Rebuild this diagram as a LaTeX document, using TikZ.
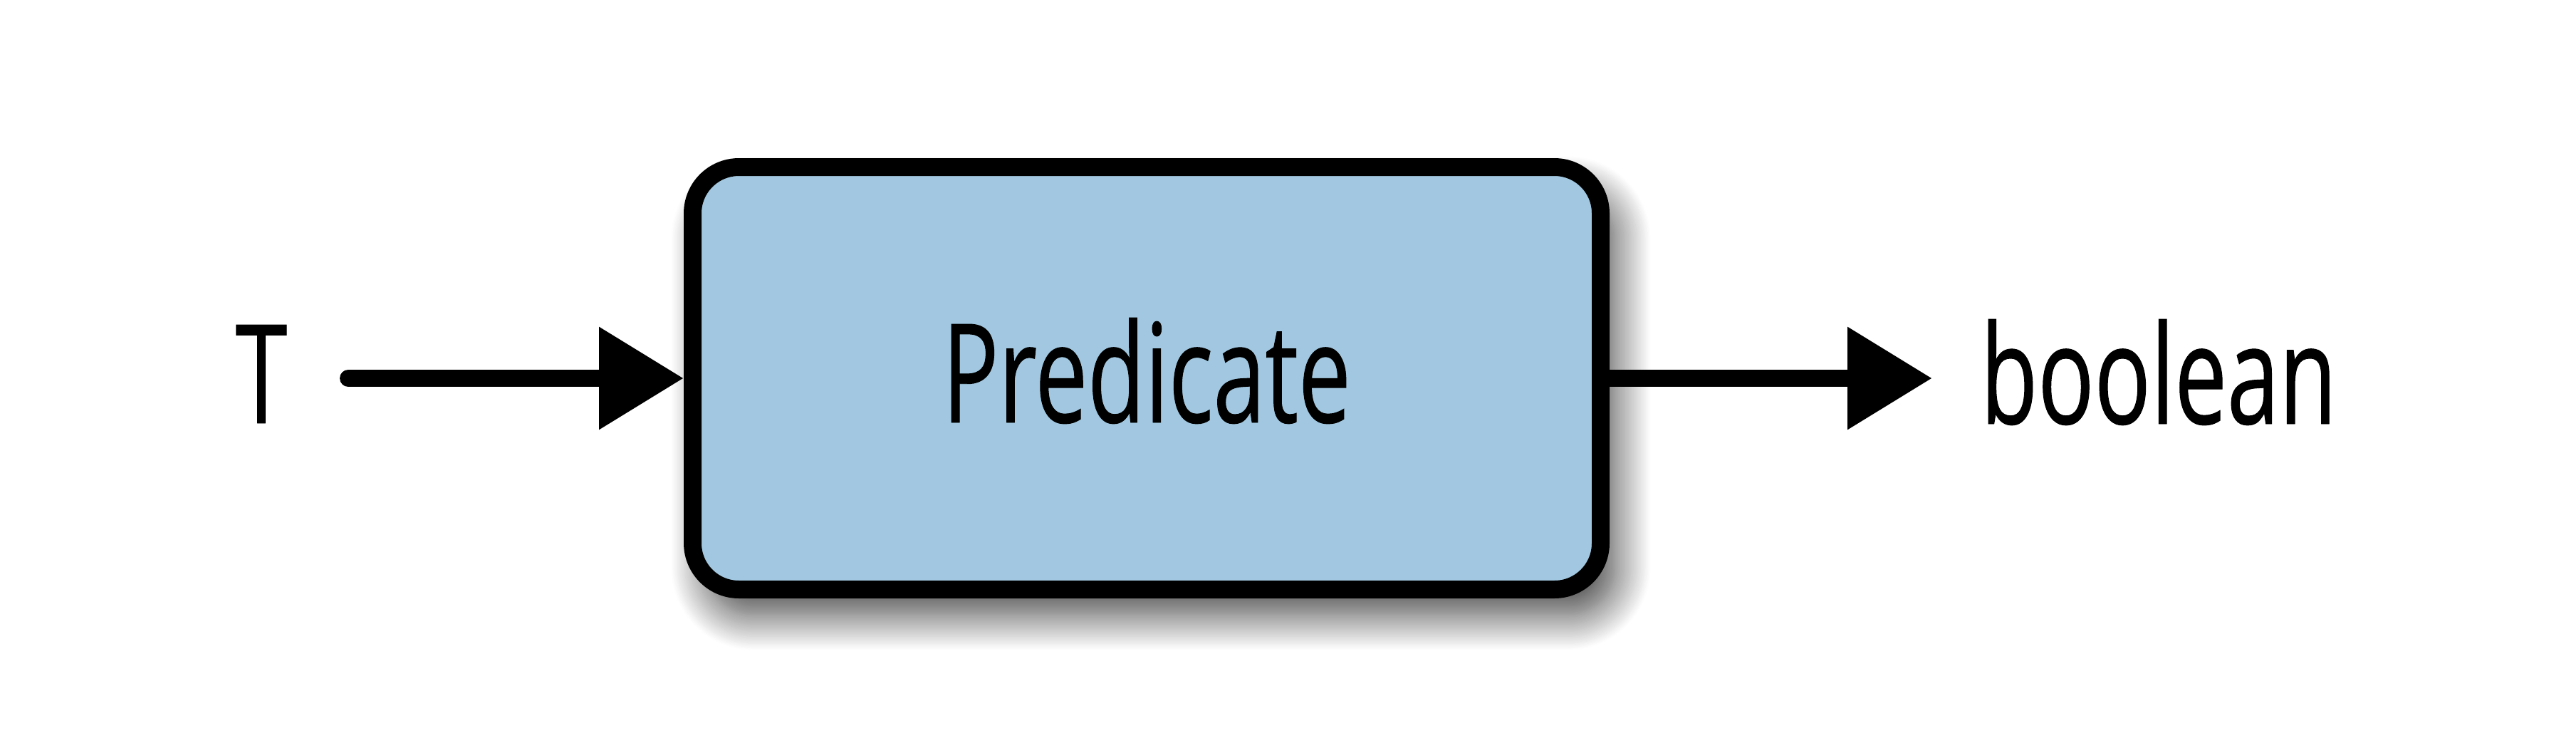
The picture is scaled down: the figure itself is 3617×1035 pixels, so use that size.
\documentclass[tikz,border=0pt]{standalone}
\usepackage{fontspec}
\setmainfont{Open Sans}[FakeStretch=0.68, FakeBold=0.5]
\usetikzlibrary{arrows.meta,shadows.blur}
\definecolor{predblue}{RGB}{161,200,224}
\begin{document}
\begin{tikzpicture}[x=0.1mm, y=-0.1mm,
	lbl/.style={inner sep=0pt, font=\fontsize{55}{60}\selectfont},
	box/.style={draw, line width=2.5mm, fill=predblue, rounded corners=6.5mm,
		minimum width=127.5mm, minimum height=59.3mm, inner sep=0pt,
		text height=13.8mm, text depth=1.4mm,
		blur shadow={shadow xshift=2mm, shadow yshift=-3.5mm,
			shadow blur radius=5mm, shadow blur steps=30,
			shadow opacity=75}},
	flow/.style={line width=2.4mm, line cap=round,
		-{Triangle[length=11.9mm, width=13.8mm]}}]
\useasboundingbox (0,0) rectangle (3617,1035);
\node[box, lbl] (pred) at (1610,531) {Predicate};
\node[lbl, anchor=base] (tin) at (367,594) {T};
\node[lbl, anchor=base west] (bool) at (2780,595) {boolean};
\draw[flow] ([xshift=8.5mm]tin.east |- pred.west) -- (pred.west);
\draw[flow] (pred.east) -- ([xshift=-6.7mm]pred.east -| bool.west);
\end{tikzpicture}
\end{document}
